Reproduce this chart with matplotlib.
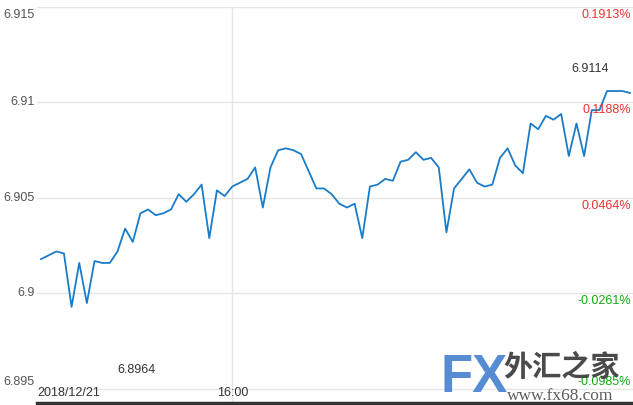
import matplotlib
matplotlib.use('Agg')
import matplotlib.pyplot as plt

# ─── 数据 ───────────────────────────────────────────────
prices = [
    6.9018, 6.9020, 6.9022, 6.9021, 6.8993, 6.9016, 6.8995, 6.9017, 6.9016, 6.9016,
    6.9022, 6.9034, 6.9027, 6.9042, 6.9044, 6.9041, 6.9042, 6.9044, 6.9052, 6.9048,
    6.9052, 6.9057, 6.9029, 6.9054, 6.9051, 6.9056, 6.9058, 6.9060, 6.9066, 6.9045,
    6.9066, 6.9075, 6.9076, 6.9075, 6.9073, 6.9064, 6.9055, 6.9055, 6.9052, 6.9047,
    6.9045, 6.9047, 6.9029, 6.9056, 6.9057, 6.9060, 6.9059, 6.9069, 6.9070, 6.9074,
    6.9070, 6.9071, 6.9066, 6.9032, 6.9055, 6.9060, 6.9065, 6.9058, 6.9056, 6.9057,
    6.9071, 6.9076, 6.9067, 6.9063, 6.9089, 6.9086, 6.9093, 6.9091, 6.9094, 6.9072,
    6.9089, 6.9072, 6.9096, 6.9096, 6.9106, 6.9106, 6.9106, 6.9105,
]
y_ticks = [6.895, 6.9, 6.905, 6.91, 6.915]
y_labels = ['6.895', '6.9', '6.905', '6.91', '6.915']
pct_labels = ['-0.0985%', '-0.0261%', '0.0464%', '0.1188%', '0.1913%']
x_tick_pos = [0, 25]
x_tick_labels = ['2018/12/21', '16:00']
low_label, high_label = '6.8964', '6.9114'

plt.rcParams['font.family'] = ['Liberation Sans', 'Noto Sans CJK SC', 'DejaVu Sans']
fs = 9

fig = plt.figure(figsize=(6.33, 4.05), dpi=100)
ax = fig.add_axes([37 / 633, 2 / 405, 596 / 633, 396 / 405])
x = list(range(len(prices)))
ax.plot(x, prices, color='#1a7cc9', linewidth=1.3, zorder=3)

ax.set_xlim(-0.52, 77.39)
ax.set_ylim(6.894267, 6.915)
ax.set_xticks([])
ax.set_yticks([])
for s in ['top', 'left', 'right']:
    ax.spines[s].set_visible(False)
ax.spines['bottom'].set_color('#333333')
ax.spines['bottom'].set_linewidth(2.5)

# 网格线
for v in y_ticks:
    ax.axhline(v, color='#e6e6e6', linewidth=1, zorder=1)
ax.axvline(x_tick_pos[1], color='#e6e6e6', linewidth=1, zorder=1)

# 左侧价格刻度 / 右侧涨跌幅
left_off = [7, 0, 0, 0, -8]
right_off = [7, -8, -8, -8, -8]
for i, (v, lab, pct) in enumerate(zip(y_ticks, y_labels, pct_labels)):
    ax.annotate(lab, xy=(0, v), xycoords=('axes fraction', 'data'),
                xytext=(-2, left_off[i]), textcoords='offset pixels',
                ha='right', va='center', fontsize=fs, color='#555555')
    col = '#f03030' if not pct.startswith('-') else '#11aa11'
    ax.annotate(pct, xy=(1, v), xycoords=('axes fraction', 'data'),
                xytext=(-2, right_off[i]), textcoords='offset pixels',
                ha='right', va='center', fontsize=fs, color=col)

# 时间标签
ax.annotate(x_tick_labels[0], xy=(0, 0), xycoords='axes fraction',
            xytext=(0, 4), textcoords='offset pixels',
            ha='left', va='bottom', fontsize=fs, color='#333333')
ax.annotate(x_tick_labels[1], xy=(x_tick_pos[1], 0), xycoords=('data', 'axes fraction'),
            xytext=(1, 4), textcoords='offset pixels',
            ha='center', va='bottom', fontsize=fs, color='#333333')

# 最高/最低标注
fig.text(136 / 633, 1 - 370 / 405, low_label, ha='center', va='center',
         fontsize=fs, color='#333333')
fig.text(590 / 633, 1 - 69 / 405, high_label, ha='center', va='center',
         fontsize=fs, color='#333333')

# 水印
fig.text(441 / 633, 1 - 378 / 405, 'FX', ha='left', va='center', fontsize=38,
         fontweight='bold', color='#4d86cf', alpha=0.95, zorder=10,
         family=['Liberation Sans'])
fig.text(503 / 633, 1 - 367 / 405, '外汇之家', ha='left', va='center', fontsize=21,
         fontweight='bold', color='#404040', alpha=0.95, zorder=10,
         family=['Noto Sans CJK SC'])
fig.text(507 / 633, 1 - 396 / 405, 'www.fx68.com', ha='left', va='center', fontsize=12.5,
         color='#555555', alpha=0.95, zorder=10, family=['Liberation Serif'])

fig.savefig('out.png', dpi=100)
